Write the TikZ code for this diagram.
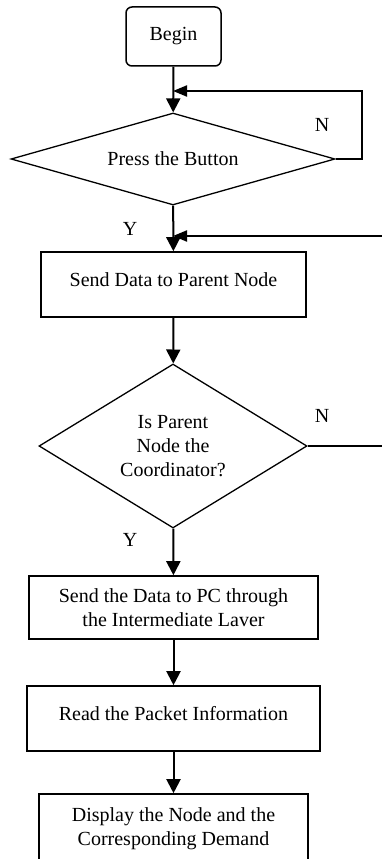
\documentclass[tikz,border=0pt]{standalone}
\usepackage{fontspec}
\setmainfont{Liberation Serif}
\usetikzlibrary{shapes.geometric,arrows.meta}
\begin{document}
\begin{tikzpicture}[x=1pt,y=-1pt,
    font=\fontsize{20}{24}\selectfont,
    startbox/.style={draw,line width=1.5pt,rounded corners=6pt,minimum width=95pt,minimum height=59pt,inner sep=0pt},
    onebox/.style={draw,line width=1.6pt,inner xsep=0pt,inner ysep=0pt,text height=34pt,text depth=31pt},
    twobox/.style={draw,line width=1.6pt,inner sep=0pt,align=center},
    choice/.style={draw,diamond,line width=1.3pt,inner sep=0pt,align=center},
    flow/.style={line width=2pt,-{Triangle[width=14pt,length=14pt]}},
    back/.style={line width=2pt,-{Triangle[width=11pt,length=14pt]}}]
  \useasboundingbox (0,0) rectangle (381,859);
  % boxes and decisions
  \node[startbox] (begin) at (173.5,36.5) {Begin};
  \node[choice,aspect=3.5,minimum width=324pt,minimum height=92pt] (press) at (173,159) {Press the Button};
  \node[onebox,minimum width=265pt] (send) at (173.5,284.5) {Send Data to Parent Node};
  \node[choice,aspect=1.6,minimum width=268pt,minimum height=164pt] (coord) at (173,446) {Is Parent\\Node the\\Coordinator?};
  \node[twobox,minimum width=289pt,minimum height=63pt] (pc) at (173.5,607.5) {Send the Data to PC through\\the Intermediate Laver};
  \node[onebox,minimum width=293pt] (read) at (173.5,718.5) {Read the Packet Information};
  \node[twobox,minimum width=269pt,minimum height=70pt] (show) at (173.5,829) {Display the Node and the\\Corresponding Demand};
  % joins on the main line
  \coordinate (join1) at (173,91);
  \coordinate (join2) at (173,236);
  % main line
  \draw[flow] (begin) -- (press);
  \draw[flow] (press) -- (send);
  \draw[flow] (send) -- (coord);
  \draw[flow] (coord) -- (pc);
  \draw[flow] (pc) -- (read);
  \draw[flow] (read) -- (show);
  % back loops
  \draw[back] (press.east) -- (362,159) |- (join1);
  \draw[back] (coord.east) -- (386,446) |- (join2);
  % labels
  \node (n1) at (322,125) {N};
  \node (y1) at (130,229) {Y};
  \node (n2) at (322,416) {N};
  \node (y2) at (130,540) {Y};
\end{tikzpicture}
\end{document}
